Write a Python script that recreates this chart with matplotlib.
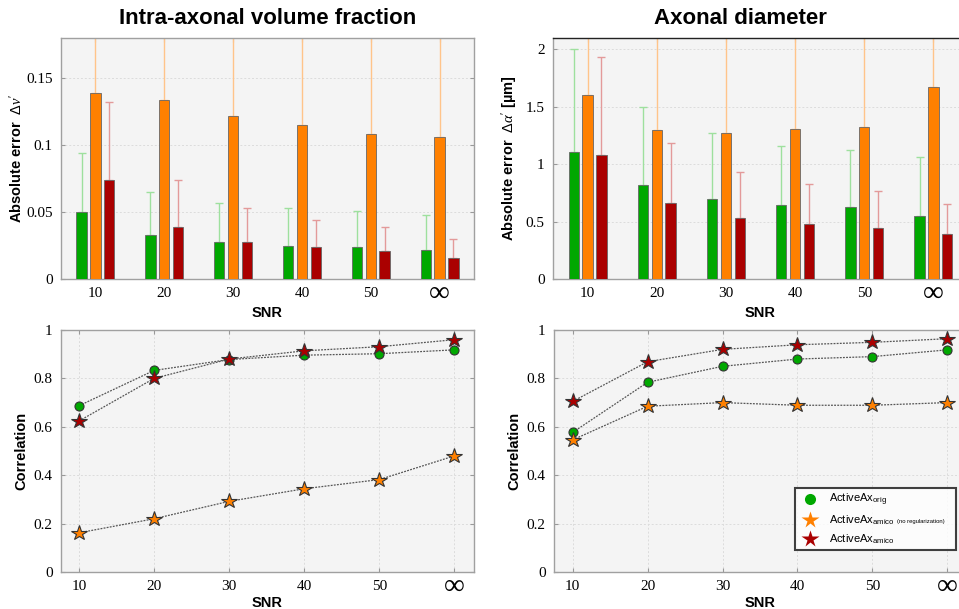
import matplotlib
matplotlib.use("Agg")
import matplotlib.pyplot as plt
import matplotlib.transforms as mtransforms
import numpy as np
from matplotlib.lines import Line2D

plt.rcParams['font.family'] = ['Liberation Sans', 'DejaVu Sans']
plt.rcParams['mathtext.fontset'] = 'custom'
plt.rcParams['mathtext.rm'] = 'Liberation Sans'
plt.rcParams['mathtext.it'] = 'Liberation Serif:italic'
plt.rcParams['mathtext.bf'] = 'Liberation Sans:bold'

snr_labels = ['10', '20', '30', '40', '50', '∞']

# Top-left: intra-axonal volume fraction absolute error
vf_orig = [0.050, 0.033, 0.028, 0.025, 0.024, 0.022]
vf_orig_top = [0.094, 0.065, 0.057, 0.053, 0.051, 0.048]
vf_noreg = [0.139, 0.134, 0.122, 0.115, 0.108, 0.106]
vf_noreg_top = [0.25, 0.25, 0.25, 0.25, 0.25, 0.25]
vf_amico = [0.074, 0.039, 0.028, 0.024, 0.021, 0.016]
vf_amico_top = [0.132, 0.074, 0.053, 0.044, 0.039, 0.030]

# Top-right: axonal diameter absolute error
ad_orig = [1.108, 0.82, 0.695, 0.645, 0.625, 0.55]
ad_orig_top = [2.0, 1.497, 1.276, 1.163, 1.128, 1.064]
ad_noreg = [1.599, 1.297, 1.276, 1.305, 1.323, 1.677]
ad_noreg_top = [3.0, 3.0, 3.0, 3.0, 3.0, 3.0]
ad_amico = [1.078, 0.666, 0.532, 0.477, 0.448, 0.39]
ad_amico_top = [1.933, 1.183, 0.933, 0.826, 0.767, 0.657]

# Bottom-left: correlation, volume fraction
cvf_orig = [0.687, 0.833, 0.878, 0.896, 0.902, 0.918]
cvf_noreg = [0.162, 0.220, 0.292, 0.344, 0.382, 0.480]
cvf_amico = [0.624, 0.800, 0.880, 0.914, 0.931, 0.960]

# Bottom-right: correlation, axonal diameter
cad_orig = [0.577, 0.784, 0.850, 0.880, 0.890, 0.918]
cad_noreg = [0.546, 0.685, 0.700, 0.689, 0.689, 0.700]
cad_amico = [0.705, 0.869, 0.920, 0.939, 0.949, 0.964]

C_GREEN = '#00a800'
C_ORANGE = '#ff8000'
C_RED = '#aa0000'
E_GREEN = '#9ee09e'
E_ORANGE = '#ffc48a'
E_RED = '#e39a9a'
BG = '#f4f4f4'
SERIF = 'Liberation Serif'

W, H = 959, 609
fig = plt.figure(figsize=(W / 100, H / 100), dpi=100)


def rect(l, r, t, b):
    return [l / W, 1 - b / H, (r - l) / W, (b - t) / H]


def style(ax, xlim, snr_y):
    ax.set_facecolor(BG)
    ax.set_xlim(*xlim)
    x = np.arange(1, len(snr_labels) + 1)
    ax.set_xticks(x)
    ax.set_xticklabels(snr_labels)
    ax.tick_params(direction='in', top=True, right=True, length=3,
                   color='#999999', pad=6, labelsize=11,
                   labelfontfamily=SERIF)
    ax.grid(True, color='#dcdcdc', linestyle=(0, (2, 2)), linewidth=0.7)
    ax.set_axisbelow(True)
    for s in ax.spines.values():
        s.set_color('#a0a0a0')
        s.set_linewidth(1.0)
    ax.set_xlabel('SNR', fontsize=10.5, fontweight='bold')
    ax.xaxis.set_label_coords(0.5, snr_y)


def fix_labels(ax):
    for lab in ax.get_xticklabels() + ax.get_yticklabels():
        lab.set_fontfamily(SERIF)
    for lab in ax.get_xticklabels():
        if lab.get_text() == '∞':
            lab.set_fontsize(21)
            lab.set_transform(lab.get_transform() + mtransforms.ScaledTranslation(
                0, 4.5 / 72, fig.dpi_scale_trans))


def bars(ax, series, xlim, ylim, yticks):
    x = np.arange(1, len(snr_labels) + 1)
    off = [-0.2, 0.0, 0.2]
    cols = [C_GREEN, C_ORANGE, C_RED]
    ecols = [E_GREEN, E_ORANGE, E_RED]
    for (vals, tops), o, c, ec in zip(series, off, cols, ecols):
        vals = np.array(vals)
        up = np.array(tops) - vals
        ax.bar(x + o, vals, width=0.15, color=c, edgecolor='#666666',
               linewidth=0.6, zorder=3,
               yerr=[np.zeros_like(vals), up],
               error_kw=dict(ecolor=ec, elinewidth=1.0, capsize=3,
                             capthick=1.0, zorder=2))
    ax.set_ylim(*ylim)
    ax.set_yticks(yticks)
    ax.set_yticklabels(['%g' % v for v in yticks])
    style(ax, xlim, -0.112)


def lines(ax, series, xlim):
    x = np.arange(1, len(snr_labels) + 1)
    specs = [('o', C_GREEN, 6.5), ('*', C_ORANGE, 11.5), ('*', C_RED, 11.5)]
    for vals, (m, c, ms) in zip(series, specs):
        ax.plot(x, vals, linestyle=(0, (1.5, 1)), color='#555555', lw=0.9,
                marker=m, markersize=ms, markerfacecolor=c,
                markeredgecolor='#333333', markeredgewidth=0.8, zorder=3)
    ax.set_ylim(0, 1)
    yt = [0, 0.2, 0.4, 0.6, 0.8, 1]
    ax.set_yticks(yt)
    ax.set_yticklabels(['%g' % v for v in yt])
    style(ax, xlim, -0.099)
    ax.set_ylabel('Correlation', fontsize=10.5, fontweight='bold', labelpad=4)


ax1 = fig.add_axes(rect(61, 474, 38, 279))
bars(ax1, [(vf_orig, vf_orig_top), (vf_noreg, vf_noreg_top),
           (vf_amico, vf_amico_top)], (0.5, 6.5), (0, 0.18),
     [0, 0.05, 0.1, 0.15])
ax1.set_ylabel(r"Absolute error  $\Delta\nu'$", fontsize=10.5,
               fontweight='bold', labelpad=1)

ax2 = fig.add_axes(rect(553, 968, 38, 279))
bars(ax2, [(ad_orig, ad_orig_top), (ad_noreg, ad_noreg_top),
           (ad_amico, ad_amico_top)], (0.5, 6.5), (0, 2.1),
     [0, 0.5, 1, 1.5, 2])
ax2.set_ylabel(r"Absolute error  $\Delta\alpha'$ [µm]", fontsize=10.5,
               fontweight='bold', labelpad=4)
ax2.spines['top'].set_color('#222222')

ax3 = fig.add_axes(rect(61, 474, 330, 572))
lines(ax3, [cvf_orig, cvf_noreg, cvf_amico], (0.76, 6.26))

ax4 = fig.add_axes(rect(554, 966, 330, 572))
lines(ax4, [cad_orig, cad_noreg, cad_amico], (0.75, 6.25))

for a in (ax1, ax2, ax3, ax4):
    fix_labels(a)

handles = [
    Line2D([], [], linestyle='none', marker='o', markersize=8,
           markerfacecolor=C_GREEN, markeredgecolor='none'),
    Line2D([], [], linestyle='none', marker='*', markersize=13,
           markerfacecolor=C_ORANGE, markeredgecolor='none'),
    Line2D([], [], linestyle='none', marker='*', markersize=13,
           markerfacecolor=C_RED, markeredgecolor='none'),
]
labels = [r'ActiveAx$_{\rm orig}$', r'ActiveAx$_{\rm amico}$',
          r'ActiveAx$_{\rm amico}$']
leg = ax4.legend(handles, labels, loc='lower left',
                 bbox_to_anchor=(0.585, 0.091, 0.39, 0.24), mode='expand',
                 fontsize=8, frameon=True, fancybox=False,
                 labelspacing=0.5, handletextpad=0.7, borderpad=0.35,
                 handlelength=2.0, borderaxespad=0)
leg.get_frame().set_edgecolor('#111111')
leg.get_frame().set_linewidth(1.5)
leg.get_frame().set_facecolor('white')
ax4.text(0.8325, 0.207, '(no regularization)', transform=ax4.transAxes,
         fontsize=4.2, ha='left', va='center', zorder=10)

fig.text(268 / W, 1 - 18 / H, 'Intra-axonal volume fraction', ha='center',
         va='center', fontsize=16, fontweight='bold')
fig.text(740 / W, 1 - 18 / H, 'Axonal diameter', ha='center',
         va='center', fontsize=16, fontweight='bold')

fig.savefig('out.png', dpi=100, facecolor='white')
